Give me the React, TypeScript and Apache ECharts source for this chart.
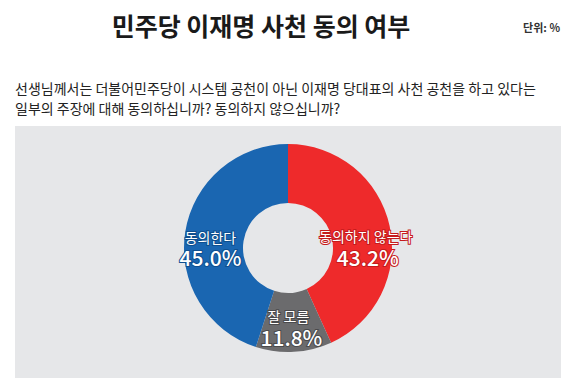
import React, { useEffect, useRef } from "react";
import * as echarts from "echarts";

const categories = ["동의하지 않는다", "잘 모름", "동의한다"];
const values = [43.2, 11.8, 45.0];
const colors = ["#ee2a2b", "#6b6b6d", "#1a66b1"];
const borderColors = ["#c41a1c", "#4a4a4c", "#0f4f8f"];
const nameOffsets = [[2, 4], [-4, -9], [-1, 1]];
const valueOffsets = [[4, 25], [-1, 12], [-1, 21]];

const titleText = "민주당 이재명 사천 동의 여부";
const unitText = "단위: %";
const questionLines = [
  "선생님께서는 더불어민주당이 시스템 공천이 아닌 이재명 당대표의 사천 공천을 하고 있다는",
  "일부의 주장에 대해 동의하십니까? 동의하지 않으십니까?",
];

const FONT = '"Noto Sans CJK KR", "Noto Sans", sans-serif';

export default function App() {
  const ref = useRef<HTMLDivElement>(null);
  useEffect(() => {
    document.body.style.margin = "0";
    const chart = echarts.init(ref.current!, null, { renderer: "svg" });
    const base = {
      type: "pie",
      center: [288, 248],
      radius: [45, 104],
      startAngle: 90,
      clockwise: true,
      silent: true,
      labelLine: { show: false },
    };
    chart.setOption({
      animation: false,
      backgroundColor: "#ffffff",
      graphic: [
        {
          type: "rect",
          shape: { x: 15, y: 126, width: 546, height: 260 },
          style: { fill: "#e6e7e9" },
          z: -10,
        },
        {
          type: "text",
          x: 261,
          y: 25,
          style: {
            text: titleText,
            font: `bold 25px ${FONT}`,
            fill: "#1a1a1a",
            align: "center",
            verticalAlign: "middle",
          },
        },
        {
          type: "text",
          x: 560,
          y: 27,
          style: {
            text: unitText,
            font: `bold 11px ${FONT}`,
            fill: "#333",
            align: "right",
            verticalAlign: "middle",
          },
        },
        ...questionLines.map((t, i) => ({
          type: "text",
          x: 15,
          y: 88 + i * 20,
          style: {
            text: t,
            font: `14px ${FONT}`,
            fill: "#222",
            align: "left",
            verticalAlign: "middle",
          },
        })),
      ],
      series: [
        {
          ...base,
          itemStyle: { borderWidth: 0 },
          data: categories.map((c, i) => ({
            name: c,
            value: values[i],
            itemStyle: { color: colors[i] },
            label: {
              show: true,
              position: "inside",
              offset: nameOffsets[i],
              formatter: "{b}",
              fontFamily: FONT,
              fontSize: 14,
              lineHeight: 16,
              color: "#fff",
              textBorderColor: borderColors[i],
              textBorderWidth: 2,
            },
          })),
        },
        {
          ...base,
          z: 3,
          itemStyle: { color: "rgba(0,0,0,0)", borderWidth: 0 },
          data: categories.map((c, i) => ({
            name: c,
            value: values[i],
            label: {
              show: true,
              position: "inside",
              offset: valueOffsets[i],
              formatter: (p: any) => `${Number(p.value).toFixed(1)}%`,
              fontFamily: FONT,
              fontSize: 21,
              fontWeight: 500,
              lineHeight: 22,
              color: "#fff",
              textBorderColor: borderColors[i],
              textBorderWidth: 2,
            },
          })),
        },
      ],
    });
    return () => chart.dispose();
  }, []);
  return <div ref={ref} style={{ width: 580, height: 378 }} />;
}
